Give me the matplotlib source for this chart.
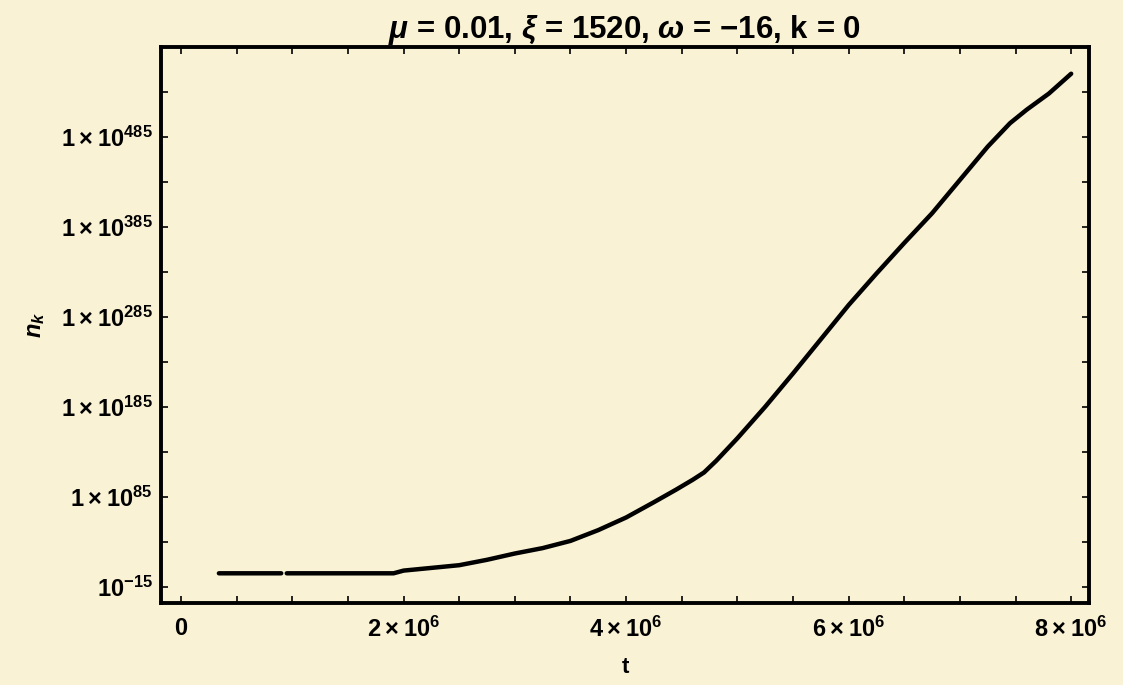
import numpy as np
import matplotlib
matplotlib.use("Agg")
import matplotlib.pyplot as plt
from matplotlib.ticker import FixedLocator, MultipleLocator

# Fonts: bold Arial-like everywhere, mathtext for superscripts
plt.rcParams['font.family'] = ['Liberation Sans', 'DejaVu Sans']
plt.rcParams['font.weight'] = 'bold'
plt.rcParams['mathtext.fontset'] = 'custom'
plt.rcParams['mathtext.rm'] = 'Liberation Sans:bold'
plt.rcParams['mathtext.it'] = 'Liberation Sans:bold:italic'
plt.rcParams['mathtext.bf'] = 'Liberation Sans:bold'
plt.rcParams['mathtext.default'] = 'regular'

# Data: t and log10(n_k)
t_values = [0.34e6, 0.90e6, np.nan, 0.95e6, 1.91e6, 2.00e6, 2.25e6, 2.50e6, 2.75e6,
            3.00e6, 3.25e6, 3.50e6, 3.75e6, 4.00e6, 4.25e6, 4.45e6, 4.60e6, 4.70e6,
            4.81e6, 5.00e6, 5.25e6, 5.50e6, 5.75e6, 6.00e6, 6.25e6, 6.50e6, 6.75e6,
            7.00e6, 7.25e6, 7.45e6, 7.60e6, 7.80e6, 8.00e6]
log10_nk = [0, 0, np.nan, 0, 0, 3, 6, 9, 15,
            22, 28, 36, 48, 62, 79, 93, 104, 112,
            125, 150, 185, 222, 260, 298, 333, 367, 400,
            437, 474, 500, 515, 533, 555]

sp = '$\\:$×$\\:$'
y_major = [-15, 85, 185, 285, 385, 485]
y_labels = ['10$^{−15}$'] + ['1' + sp + '10$^{%d}$' % e for e in y_major[1:]]
y_minor = [35, 135, 235, 335, 435, 535]
x_major = [0, 2e6, 4e6, 6e6, 8e6]
x_labels = ['0'] + ['%d' % m + sp + '10$^{6}$' for m in (2, 4, 6, 8)]

bg = '#FAF2D4'
fig = plt.figure(figsize=(11.23, 6.85), dpi=100, facecolor=bg)
ax = fig.add_axes([0.1434, 0.1197, 0.9697 - 0.1434, 0.9318 - 0.1197])
ax.set_facecolor(bg)

ax.plot(t_values, log10_nk, color='black', lw=3.2, solid_capstyle='round')

ax.set_xlim(-0.18e6, 8.16e6)
ax.set_ylim(-33, 585)

ax.xaxis.set_major_locator(FixedLocator(x_major))
ax.set_xticklabels(x_labels)
ax.xaxis.set_minor_locator(MultipleLocator(0.5e6))
ax.yaxis.set_major_locator(FixedLocator(y_major))
ax.set_yticklabels(y_labels)
ax.yaxis.set_minor_locator(FixedLocator(y_minor))

ax.tick_params(which='both', direction='in', top=True, right=True,
               width=1.2, length=5, labelsize=17, color='black')
ax.tick_params(axis='x', which='both', pad=10)
ax.tick_params(axis='y', which='both', pad=6)
for s in ax.spines.values():
    s.set_linewidth(2.8)

ax.set_title(r'$\mathit{\mu}$ = 0.01, $\mathit{\xi}$ = 1520, $\mathit{\omega}$ = −16, k = 0',
             fontsize=22.5, fontweight='bold', pad=3)
ax.set_xlabel('t', fontsize=16, fontweight='bold', labelpad=11)
ax.set_ylabel('$\\mathit{n_k}$', fontsize=17, labelpad=10)

fig.savefig('out.png', dpi=100, facecolor=bg)
